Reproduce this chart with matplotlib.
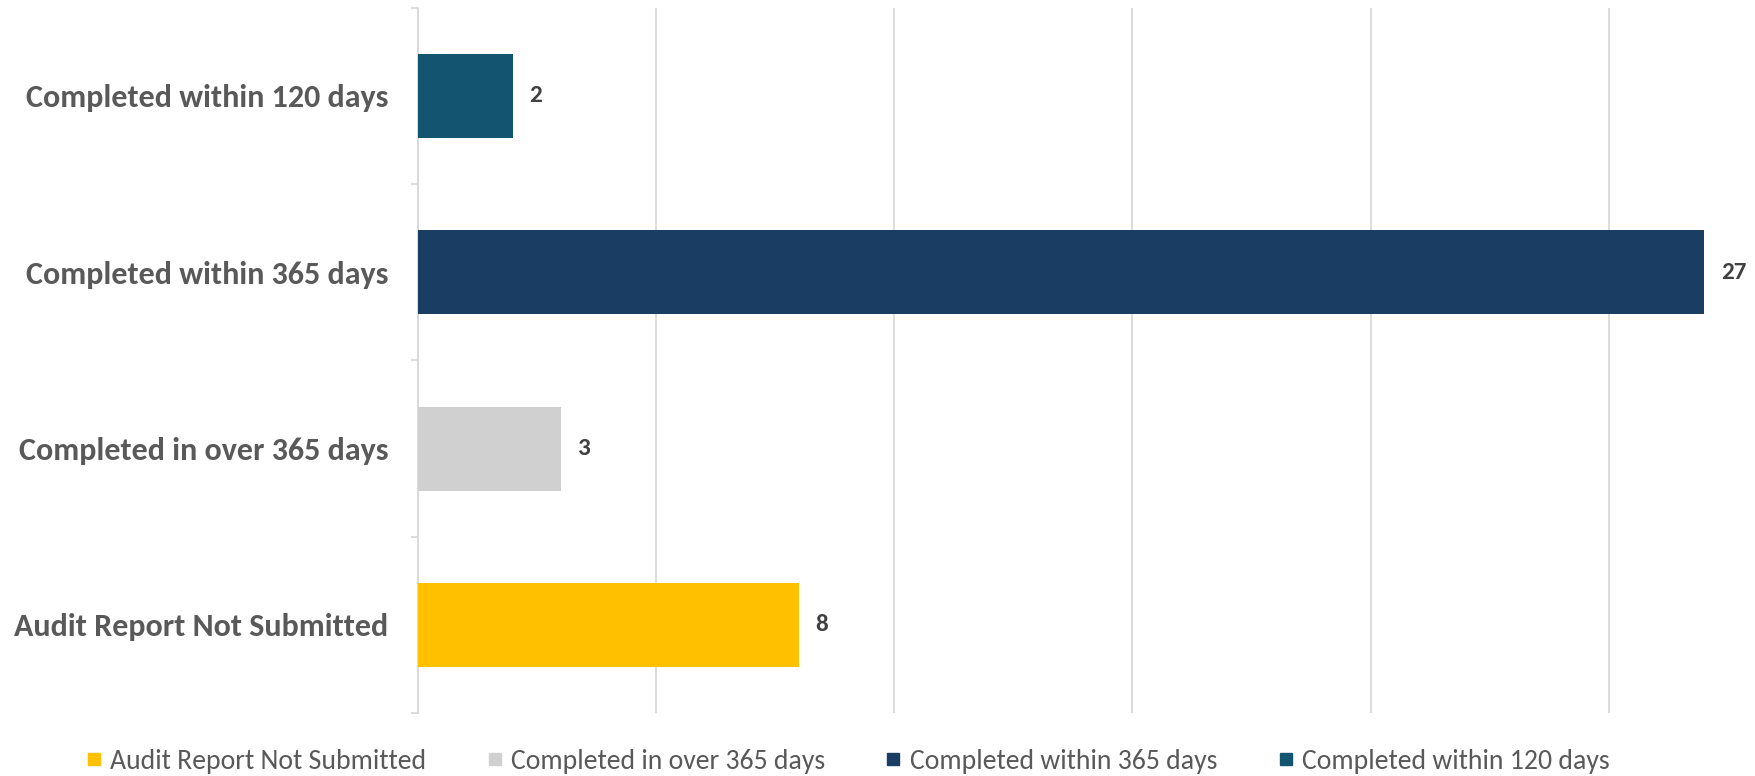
import matplotlib
matplotlib.use("Agg")
import matplotlib.pyplot as plt
from matplotlib import font_manager
from matplotlib.lines import Line2D

# data, bottom to top as in the reference
categories = [
	"Audit Report Not Submitted",
	"Completed in over 365 days",
	"Completed within 365 days",
	"Completed within 120 days",
]
values = [8, 3, 27, 2]
colors = ["#ffc000", "#d0d0d0", "#1a3d63", "#135570"]

installed = {f.name for f in font_manager.fontManager.ttflist}
family = [f for f in ["Carlito", "Liberation Sans Narrow", "Open Sans", "DejaVu Sans"] if f in installed]
plt.rcParams["font.family"] = family

fig = plt.figure(figsize = (17.55, 7.76), dpi = 100)
ax = fig.add_axes([0.2379, 0.081, 0.7621, 0.909])

y = list(range(len(categories)))
ax.barh(y, values, height = 0.476, color = colors, zorder = 3)

for yi, v in zip(y, values):
	ax.annotate(
		str(v), (v, yi),
		xytext = (12, 0), textcoords = "offset points",
		va = "center", ha = "left",
		fontsize = 18, fontweight = "bold", color = "#404040"
	)

ax.set_xlim(0, 28.06)
ax.set_ylim(-0.5, 3.5)
ax.set_xticks([0, 5, 10, 15, 20, 25])
ax.tick_params(axis = "x", length = 0, labelbottom = False)
ax.grid(axis = "x", color = "#d9d9d9", linewidth = 1.3, zorder = 0)

ax.set_yticks(y)
ax.set_yticklabels(categories, fontsize = 23, fontweight = "bold", color = "#595959")
ax.tick_params(axis = "y", which = "major", length = 0, pad = 21)
ax.set_yticks([-0.5, 0.5, 1.5, 2.5, 3.5], minor = True)
ax.tick_params(axis = "y", which = "minor", length = 5, width = 1.3, color = "#d9d9d9")

for s in ["top", "right", "bottom"]:
	ax.spines[s].set_visible(False)
ax.spines["left"].set_color("#d9d9d9")
ax.spines["left"].set_linewidth(1.3)

handles = [
	Line2D([], [], marker = "s", linestyle = "none", markersize = 8,
		markerfacecolor = c, markeredgecolor = c)
	for c in colors
]
fig.legend(
	handles, categories,
	loc = "center", bbox_to_anchor = (0.483, 0.019),
	ncol = 4, frameon = False,
	fontsize = 20, labelcolor = "#595959",
	handlelength = 0.6, handletextpad = 0.3, columnspacing = 2.15
)

fig.savefig("out.png", dpi = 100)
